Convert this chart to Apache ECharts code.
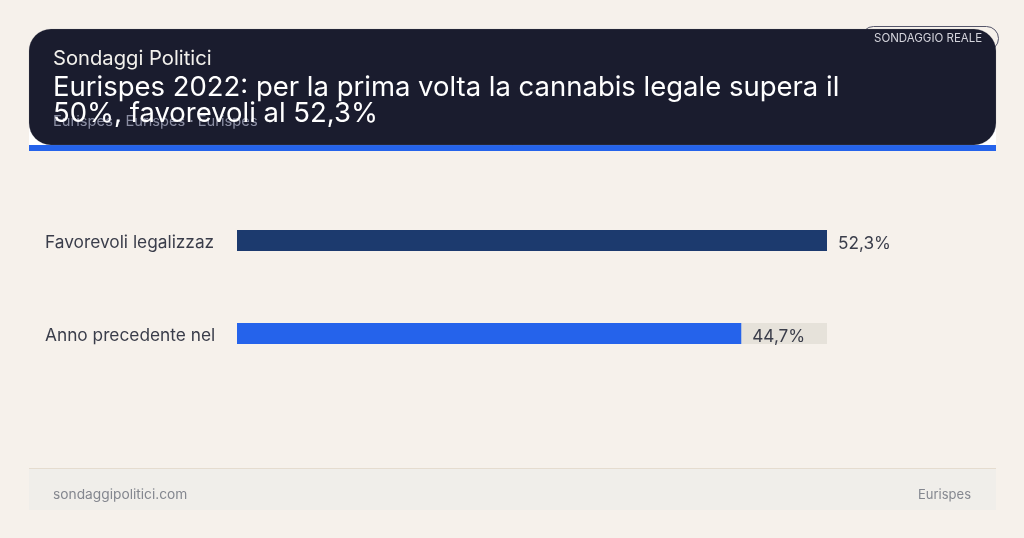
<!DOCTYPE html>
<html><head><meta charset="utf-8">
<style>html,body{margin:0;padding:0;background:#f6f1eb}#c{width:1024px;height:538px}</style>
<script src="https://cdn.jsdelivr.net/npm/echarts@6/dist/echarts.min.js"></script>
</head><body><div id="c"></div>
<script>
const categories = ["Favorevoli legalizzaz", "Anno precedente nel"];
const values = [52.3, 44.7];
const barColors = ["#1c3a6e", "#2563eb"];
const kicker = "Sondaggi Politici";
const titleLines = ["Eurispes 2022: per la prima volta la cannabis legale supera il", "50%, favorevoli al 52,3%"];
const subtitle = "Eurispes · Eurispes · Eurispes";
const badge = "SONDAGGIO REALE";
const footerLeft = "sondaggipolitici.com";
const footerRight = "Eurispes";
const FONT = "Inter, sans-serif";
const chart = echarts.init(document.getElementById('c'), null, {renderer:'canvas'});
const txt = (x,y,text,size,fill,extra={}) => ({type:'text',x,y,z:extra.z||10,silent:true,
  style:Object.assign({text,font:`${extra.weight||400} ${size}px ${FONT}`,fill,textVerticalAlign:'middle',textAlign:extra.align||'left'},extra.style||{})});
chart.setOption({
  backgroundColor:'#f6f1eb',
  animation:false,
  grid:{left:237,top:194,width:590,height:186,containLabel:false},
  xAxis:{type:'value',min:0,max:52.3,show:false},
  yAxis:{type:'category',inverse:true,data:categories,
    axisLine:{show:false},axisTick:{show:false},splitLine:{show:false},
    axisLabel:{margin:192,align:'left',verticalAlign:'top',lineHeight:5,color:'#3a3d4a',fontFamily:FONT,fontSize:17.3}},
  series:[{type:'bar',barWidth:21,
    showBackground:true,backgroundStyle:{color:'#e6e2da'},
    data:values.map((v,i)=>({value:v,itemStyle:{color:barColors[i]}})),
    label:{show:true,position:'right',distance:11,offset:[0,3],color:'#3a3d4a',fontFamily:FONT,fontSize:17.2,
      formatter:p=>p.value.toFixed(1).replace('.',',')+'%'}}],
  graphic:[
    {type:'rect',z:1,silent:true,shape:{x:29,y:52,width:967,height:99},style:{fill:'#ffffff'}},
    {type:'rect',z:2,silent:true,shape:{x:29,y:145,width:967,height:6},style:{fill:'#2563eb'}},
    {type:'rect',z:2,silent:true,shape:{x:861.5,y:26.5,width:137,height:24,r:12},style:{fill:'#f6f1eb',stroke:'#55566a',lineWidth:1}},
    {type:'rect',z:3,silent:true,shape:{x:29,y:29,width:967,height:116,r:22},style:{fill:'#1a1c2e',stroke:'rgba(150,150,155,0.35)',lineWidth:0.5}},
    txt(53,58.5,kicker,20.2,'#f2f0ec'),
    txt(53,122,subtitle,14.7,'#8b8ea3',{z:4}),
    txt(53,88,titleLines[0],27.47,'#ffffff'),
    txt(53,114,titleLines[1],27.47,'#ffffff'),
    txt(874,38.5,badge,11.5,'#d4d4dc'),
    {type:'rect',z:1,silent:true,shape:{x:29,y:468,width:967,height:42},style:{fill:'#f0eeea'}},
    {type:'rect',z:2,silent:true,shape:{x:29,y:468,width:967,height:1},style:{fill:'#e5dccf'}},
    txt(53,495,footerLeft,13.75,'#84878f'),
    txt(971,495,footerRight,13,'#84878f',{align:'right'})
  ]
});
</script></body></html>
